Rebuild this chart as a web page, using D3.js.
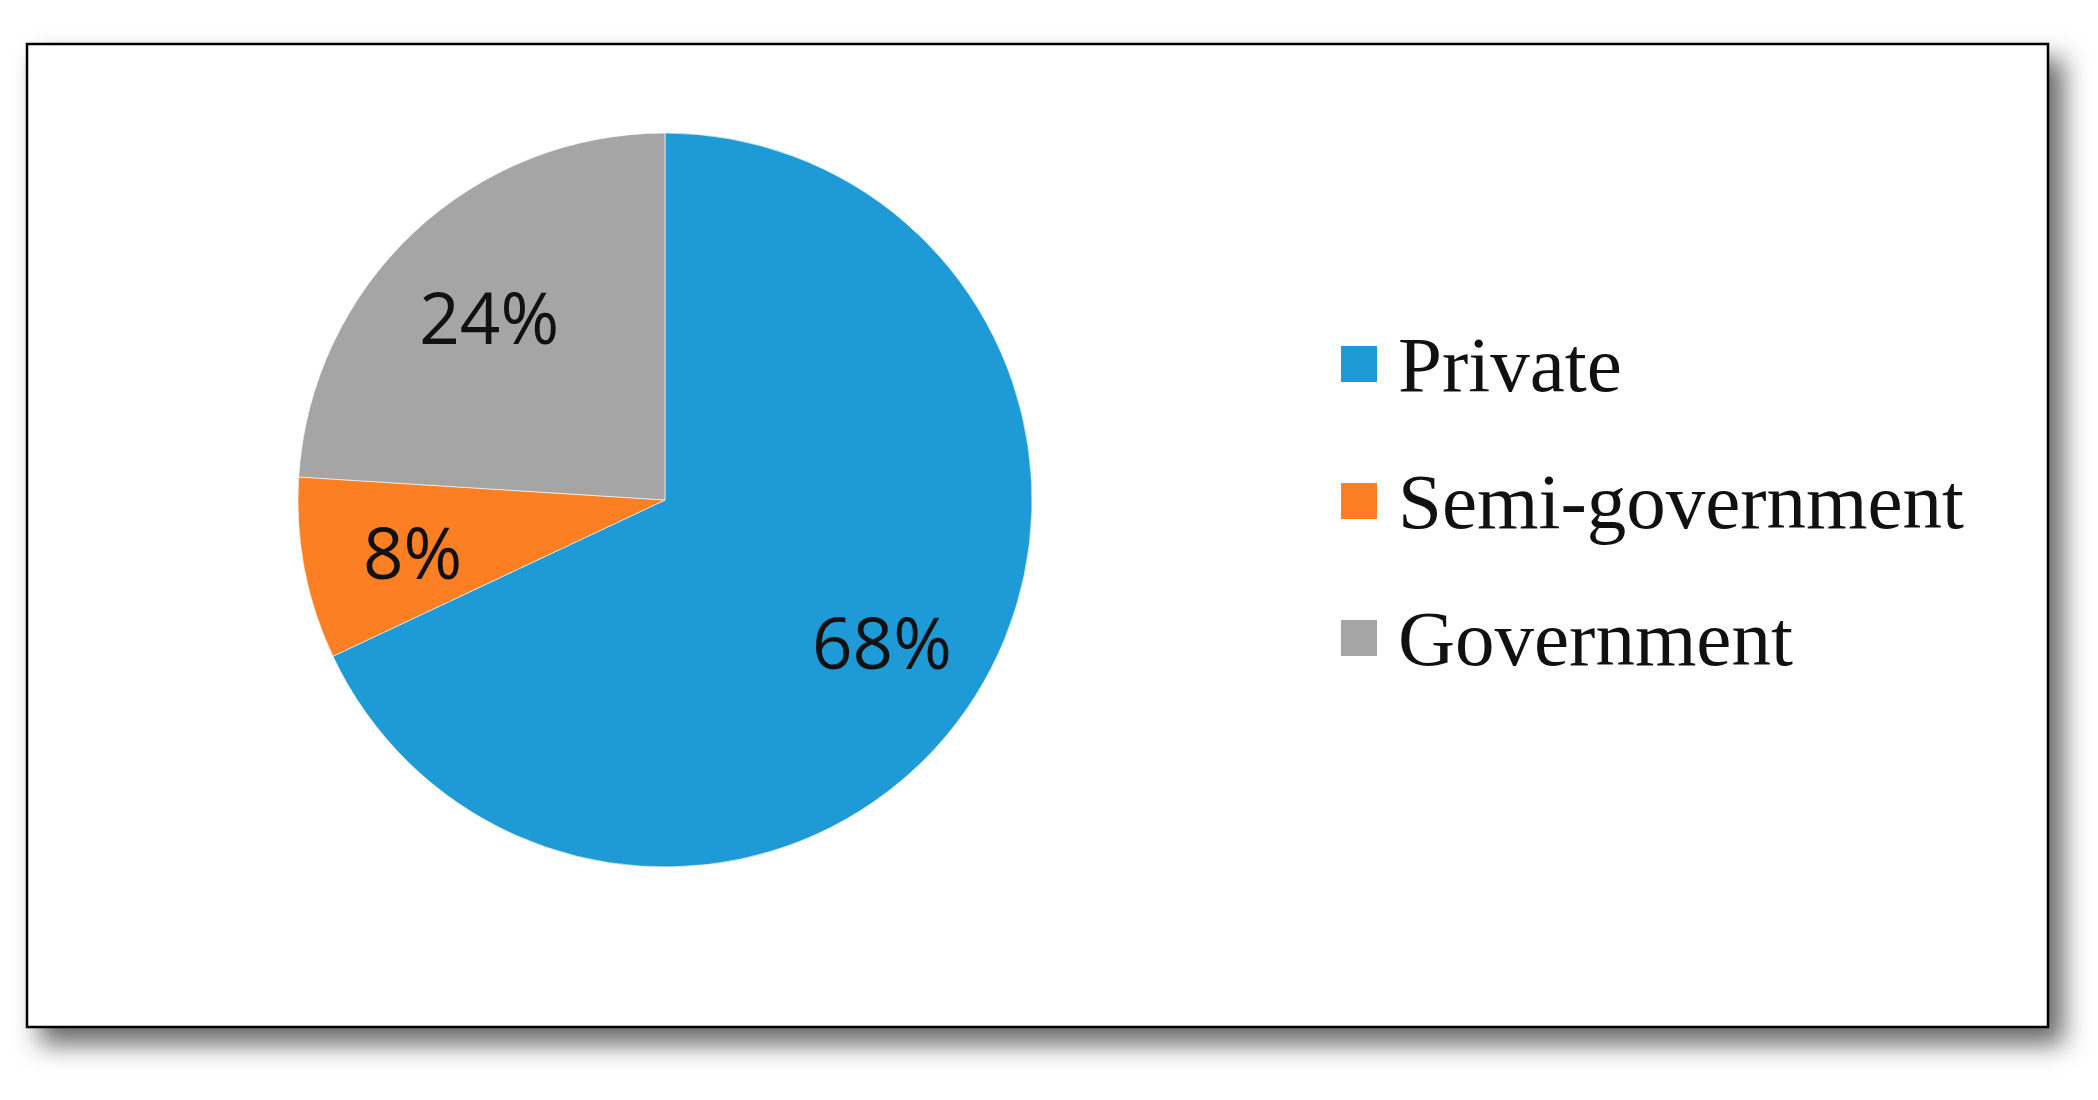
<!DOCTYPE html>
<html lang="en">
  <style>
    body {
      margin: 0;
      background: #fff;
    }

    .label {
      font-family: "Open Sans", sans-serif;
      font-size: 71px;
      fill: #111;
    }

    .legend text {
      font-family: "Liberation Serif", "Times New Roman", serif;
      font-size: 79px;
      fill: #111;
    }
  </style>

  <head>
    <script src="https://d3js.org/d3.v7.min.js"></script>
  </head>

  <body>
    <svg width="2098" height="1100"></svg>
    <script>
      // data
      var categories = ["Private", "Semi-government", "Government"];
      var shares = [68, 8, 24];
      var colors = ["#1e9bd7", "#fd7f24", "#a5a5a5"];

      var width = 2098;
      var height = 1100;
      var svg = d3.select("svg");

      // drop shadow for the frame
      var defs = svg.append("defs");
      var filter = defs
        .append("filter")
        .attr("id", "shadow")
        .attr("x", "-10%")
        .attr("y", "-10%")
        .attr("width", "125%")
        .attr("height", "130%");
      filter
        .append("feDropShadow")
        .attr("dx", 14)
        .attr("dy", 16)
        .attr("stdDeviation", 13)
        .attr("flood-color", "#000")
        .attr("flood-opacity", 0.6);

      svg
        .append("rect")
        .attr("x", 27)
        .attr("y", 44)
        .attr("width", 2021)
        .attr("height", 983)
        .attr("fill", "#fff")
        .attr("stroke", "#000")
        .attr("stroke-width", 2.5)
        .attr("filter", "url(#shadow)");

      var cx = 665;
      var cy = 500;
      var radius = 367;

      var pie = d3
        .pie()
        .sort(null)
        .value(function (d) {
          return d;
        });

      var arc = d3.arc().innerRadius(0).outerRadius(radius);
      var labelArc = d3
        .arc()
        .innerRadius(radius * 0.7)
        .outerRadius(radius * 0.7);

      var g = svg
        .append("g")
        .attr("transform", "translate(" + cx + "," + cy + ")");

      var slices = g
        .selectAll(".slice")
        .data(pie(shares))
        .enter()
        .append("g")
        .attr("class", "slice");

      slices
        .append("path")
        .attr("d", arc)
        .attr("fill", function (d, i) {
          return colors[i];
        })
        .attr("stroke", "#fff")
        .attr("stroke-width", 0.6);

      slices
        .append("text")
        .attr("class", "label")
        .attr("transform", function (d) {
          return "translate(" + labelArc.centroid(d) + ")";
        })
        .attr("text-anchor", "middle")
        .attr("dy", "0.44em")
        .text(function (d) {
          return d.data + "%";
        });

      // legend
      var legendY = d3
        .scalePoint()
        .domain(categories)
        .range([364, 638]);

      var legend = svg
        .append("g")
        .attr("class", "legend")
        .selectAll("g")
        .data(categories)
        .enter()
        .append("g")
        .attr("transform", function (d) {
          return "translate(1341," + legendY(d) + ")";
        });

      legend
        .append("rect")
        .attr("x", 0)
        .attr("y", -18)
        .attr("width", 36)
        .attr("height", 36)
        .attr("fill", function (d, i) {
          return colors[i];
        });

      legend
        .append("text")
        .attr("x", 57)
        .attr("y", 27)
        .text(function (d) {
          return d;
        });
    </script>
  </body>
</html>
